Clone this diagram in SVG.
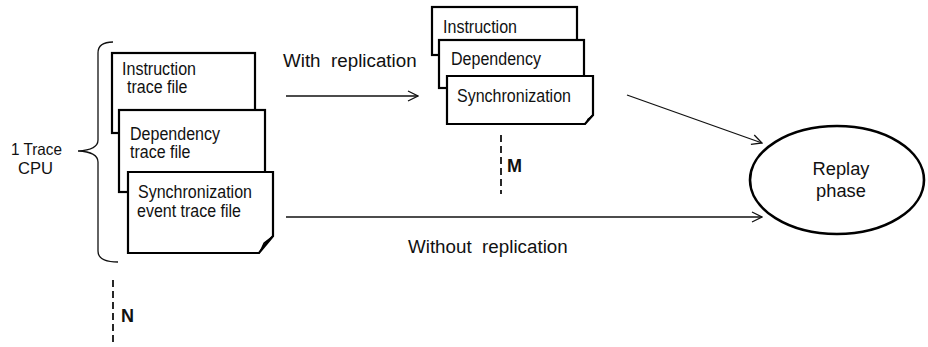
<svg xmlns="http://www.w3.org/2000/svg" width="928" height="347" viewBox="0 0 928 347">
<defs>
<style>
.t{font-family:"Liberation Sans",Arial,sans-serif;font-size:17.5px;fill:#111}
.lbl{font-family:"Liberation Sans",Arial,sans-serif;font-size:18.8px;fill:#111}
.rp{font-family:"Liberation Sans",Arial,sans-serif;font-size:18.3px;fill:#111}
.b{font-family:"Liberation Sans",Arial,sans-serif;font-size:18px;font-weight:bold;fill:#111}
.box{fill:#fff;stroke:#000;stroke-width:2.2;stroke-linejoin:miter}
.fold{fill:#333;stroke:#000;stroke-width:1.2;stroke-linejoin:round}
.ln{fill:none;stroke:#111;stroke-width:1.3}
.dash{fill:none;stroke:#111;stroke-width:1.8;stroke-dasharray:7 4}
</style>
<marker id="arr" viewBox="0 0 12 12" refX="11" refY="6" markerWidth="12" markerHeight="12" markerUnits="userSpaceOnUse" orient="auto">
<path d="M1,1 L11,6 L1,11" fill="none" stroke="#111" stroke-width="1.3"/>
</marker>
</defs>

<g id="cpu-label">
<text class="t" x="11" y="155" style="font-size:16.5px" textLength="51" lengthAdjust="spacingAndGlyphs">1 Trace</text>
<text class="t" x="18" y="174" style="font-size:16.5px" textLength="35" lengthAdjust="spacingAndGlyphs">CPU</text>
<path class="ln" d="M113,42 Q98,42 98,53 L98,140 Q98,150 78,151 Q98,152 98,162 L98,251 Q98,262 118,262"/>
</g>

<g id="instruction-trace">
<rect class="box" x="112" y="53" width="143" height="80"/>
<text class="t" x="122" y="75" textLength="74" lengthAdjust="spacingAndGlyphs">Instruction</text>
<text class="t" x="127" y="93" textLength="60.5" lengthAdjust="spacingAndGlyphs">trace file</text>
</g>
<g id="dependency-trace">
<rect class="box" x="119" y="110" width="146" height="82"/>
<text class="t" x="130" y="140" textLength="90" lengthAdjust="spacingAndGlyphs">Dependency</text>
<text class="t" x="130" y="158" textLength="60.5" lengthAdjust="spacingAndGlyphs">trace file</text>
</g>
<g id="sync-trace">
<path class="box" d="M128,172 H273 V236 L259,253 H128 Z"/>
<path class="fold" d="M259,253 Q264,244 273,236 Q268,240 264,243 Q262,248 259,253 Z"/>
<text class="t" x="138" y="198" textLength="114" lengthAdjust="spacingAndGlyphs">Synchronization</text>
<text class="t" x="137" y="217" textLength="104" lengthAdjust="spacingAndGlyphs">event trace file</text>
</g>

<g id="instruction-rep">
<rect class="box" x="432" y="7" width="145" height="48"/>
<text class="t" x="443" y="33" textLength="74" lengthAdjust="spacingAndGlyphs">Instruction</text>
</g>
<g id="dependency-rep">
<rect class="box" x="439" y="40" width="145" height="48"/>
<text class="t" x="451" y="65" textLength="90" lengthAdjust="spacingAndGlyphs">Dependency</text>
</g>
<g id="sync-rep">
<path class="box" d="M447,76 H593 V115 L585,124 H447 Z"/>
<path class="fold" d="M585,124 Q588,119 593,115 Q590,118 588,119 Q587,122 585,124 Z"/>
<text class="t" x="457" y="102" textLength="114" lengthAdjust="spacingAndGlyphs">Synchronization</text>
</g>

<g id="replay">
<ellipse cx="837" cy="180" rx="87" ry="54" fill="#fff" stroke="#000" stroke-width="2.6"/>
<text class="rp" x="841" y="175" text-anchor="middle">Replay</text>
<text class="rp" x="841" y="197" text-anchor="middle">phase</text>
</g>

<g id="connectors">
<line class="ln" x1="286" y1="96" x2="418" y2="96" marker-end="url(#arr)"/>
<line class="ln" x1="627" y1="95" x2="762" y2="143" marker-end="url(#arr)"/>
<line class="ln" x1="286" y1="217" x2="762" y2="217" marker-end="url(#arr)"/>
<text class="lbl" x="283" y="67" xml:space="preserve">With  replication</text>
<text class="lbl" x="408" y="253" xml:space="preserve">Without  replication</text>
</g>

<g id="m-marker">
<line class="dash" x1="501" y1="135" x2="501" y2="194"/>
<text class="b" x="507" y="172">M</text>
</g>
<g id="n-marker">
<line class="dash" x1="113" y1="280" x2="113" y2="344"/>
<text class="b" x="121" y="322">N</text>
</g>
</svg>
